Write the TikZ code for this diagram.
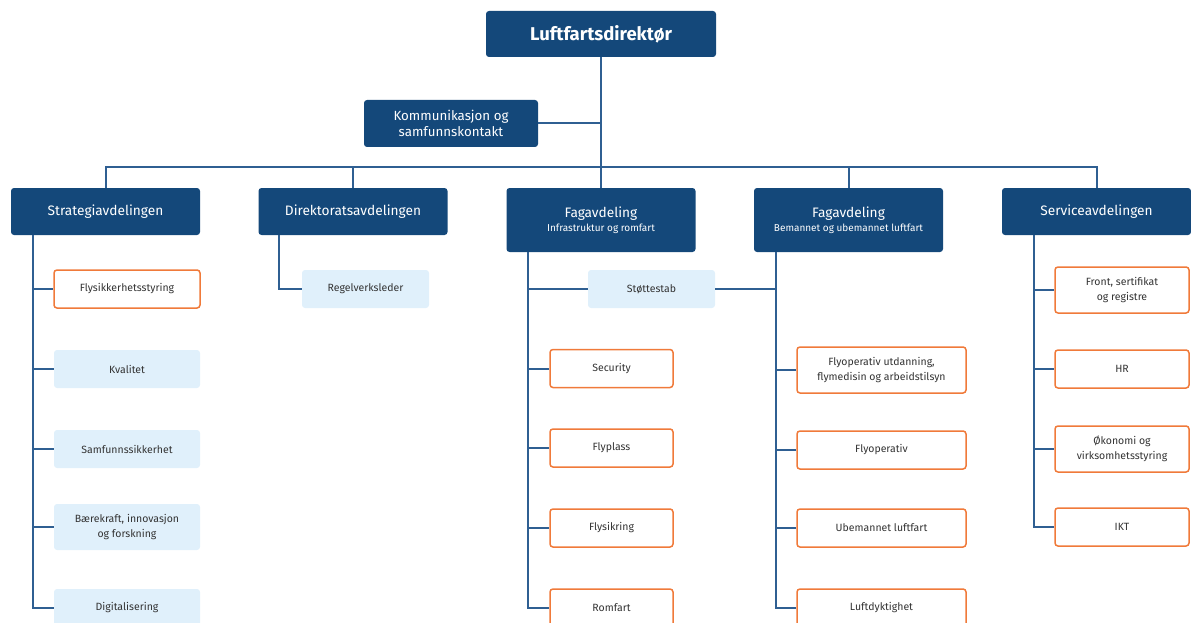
\documentclass[tikz,border=0pt]{standalone}
\usepackage{fontspec}
\setmainfont{Fira Sans}
\definecolor{navy}{HTML}{14487A}
\definecolor{linje}{HTML}{2F5F92}
\definecolor{oransje}{HTML}{F07A3A}
\definecolor{lysbla}{HTML}{E0F0FB}
\definecolor{tekst}{HTML}{333333}
\begin{document}
\begin{tikzpicture}[x=1pt, y=-1pt,
  head/.style={rectangle, rounded corners=3pt, fill=navy, text=white, align=center, inner sep=2pt},
  dept/.style={head, minimum width=189, minimum height=47, font=\fontsize{13.7}{16}\selectfont},
  unit/.style={rectangle, rounded corners=3pt, minimum height=38, text=tekst, align=center, inner sep=2pt, font=\fontsize{10.5}{14.5}\selectfont},
  orange/.style={unit, draw=oransje, line width=1.5pt, fill=white},
  pale/.style={unit, fill=lysbla},
  link/.style={draw=linje, line width=2pt}]
	\useasboundingbox (0,0) rectangle (1191,623);
	\node[head, minimum width=230, minimum height=46, font=\fontsize{18.5}{21}\selectfont\bfseries] at (601,34) (chief) {Luftfartsdirektør};
	\node[head, minimum width=174, minimum height=47, font=\fontsize{13.3}{16}\selectfont] at (451,123.5) (komm) {Kommunikasjon og\\samfunnskontakt};
	\node[dept] at (105.5,211.5) (strat) {Strategiavdelingen};
	\node[dept] at (353,211.5) (direk) {Direktoratsavdelingen};
	\node[dept, minimum height=64] at (601,220) (fag1) {Fagavdeling\\[-2pt]{\fontsize{10}{12}\selectfont Infrastruktur og romfart}};
	\node[dept, minimum height=64] at (848.5,220) (fag2) {Fagavdeling\\[-2pt]{\fontsize{10}{12}\selectfont Bemannet og ubemannet luftfart}};
	\node[dept] at (1096.5,211.5) (serv) {Serviceavdelingen};
	% strategi
	\node[orange, minimum width=146] at (127,289) (flysik) {Flysikkerhetsstyring};
	\node[pale, minimum width=146] at (127,369) (kval) {Kvalitet};
	\node[pale, minimum width=146] at (127,449) (samf) {Samfunnssikkerhet};
	\node[pale, minimum width=146, minimum height=46] at (127,527) (baer) {Bærekraft, innovasjon\\og forskning};
	\node[pale, minimum width=146] at (127,608) (digi) {Digitalisering};
	% direktorat
	\node[pale, minimum width=127] at (365.5,289) (regel) {Regelverksleder};
	% fag 1
	\node[pale, minimum width=127] at (651.5,289) (stotte) {Støttestab};
	\node[orange, minimum width=123] at (611.5,368.5) (sec) {Security};
	\node[orange, minimum width=123] at (611.5,448) (flyplass) {Flyplass};
	\node[orange, minimum width=123] at (611.5,528) (flysikring) {Flysikring};
	\node[orange, minimum width=123] at (611.5,608) (romfart) {Romfart};
	% fag 2
	\node[orange, minimum width=169, minimum height=46] at (881.5,370) (utd) {Flyoperativ utdanning,\\flymedisin og arbeidstilsyn};
	\node[orange, minimum width=169] at (881.5,450) (flyop) {Flyoperativ};
	\node[orange, minimum width=169] at (881.5,528) (ubem) {Ubemannet luftfart};
	\node[orange, minimum width=169] at (881.5,608) (luftd) {Luftdyktighet};
	% service
	\node[orange, minimum width=134, minimum height=46] at (1122,290) (front) {Front, sertifikat\\og registre};
	\node[orange, minimum width=134] at (1122,369) (hr) {HR};
	\node[orange, minimum width=134, minimum height=46] at (1122,449) (okon) {Økonomi og\\virksomhetsstyring};
	\node[orange, minimum width=134] at (1122,527) (ikt) {IKT};
	\coordinate (bus) at (601,167);
	\coordinate (fag2spine) at ([xshift=22]fag2.south west);
	\draw[link] (chief.south) |- (komm.east);
	\draw[link] (chief.south) -- (bus);
	\draw[link] (strat.north) |- (bus) -| (serv.north);
	\foreach \boss in {direk,fag1,fag2}
		\draw[link] (\boss.north) -- (\boss.north |- bus);
	\foreach \boss/\off/\kids in {strat/22/{flysik,kval,samf,baer,digi}, direk/21/{regel}, fag1/22/{stotte,sec,flyplass,flysikring,romfart}, fag2/22/{utd,flyop,ubem,luftd}, serv/32/{front,hr,okon,ikt}}
		\foreach \kid in \kids
			\draw[link] ([xshift=\off]\boss.south west) |- (\kid.west);
	\draw[link] (stotte.east) -- (stotte.east -| fag2spine);
\end{tikzpicture}
\end{document}
